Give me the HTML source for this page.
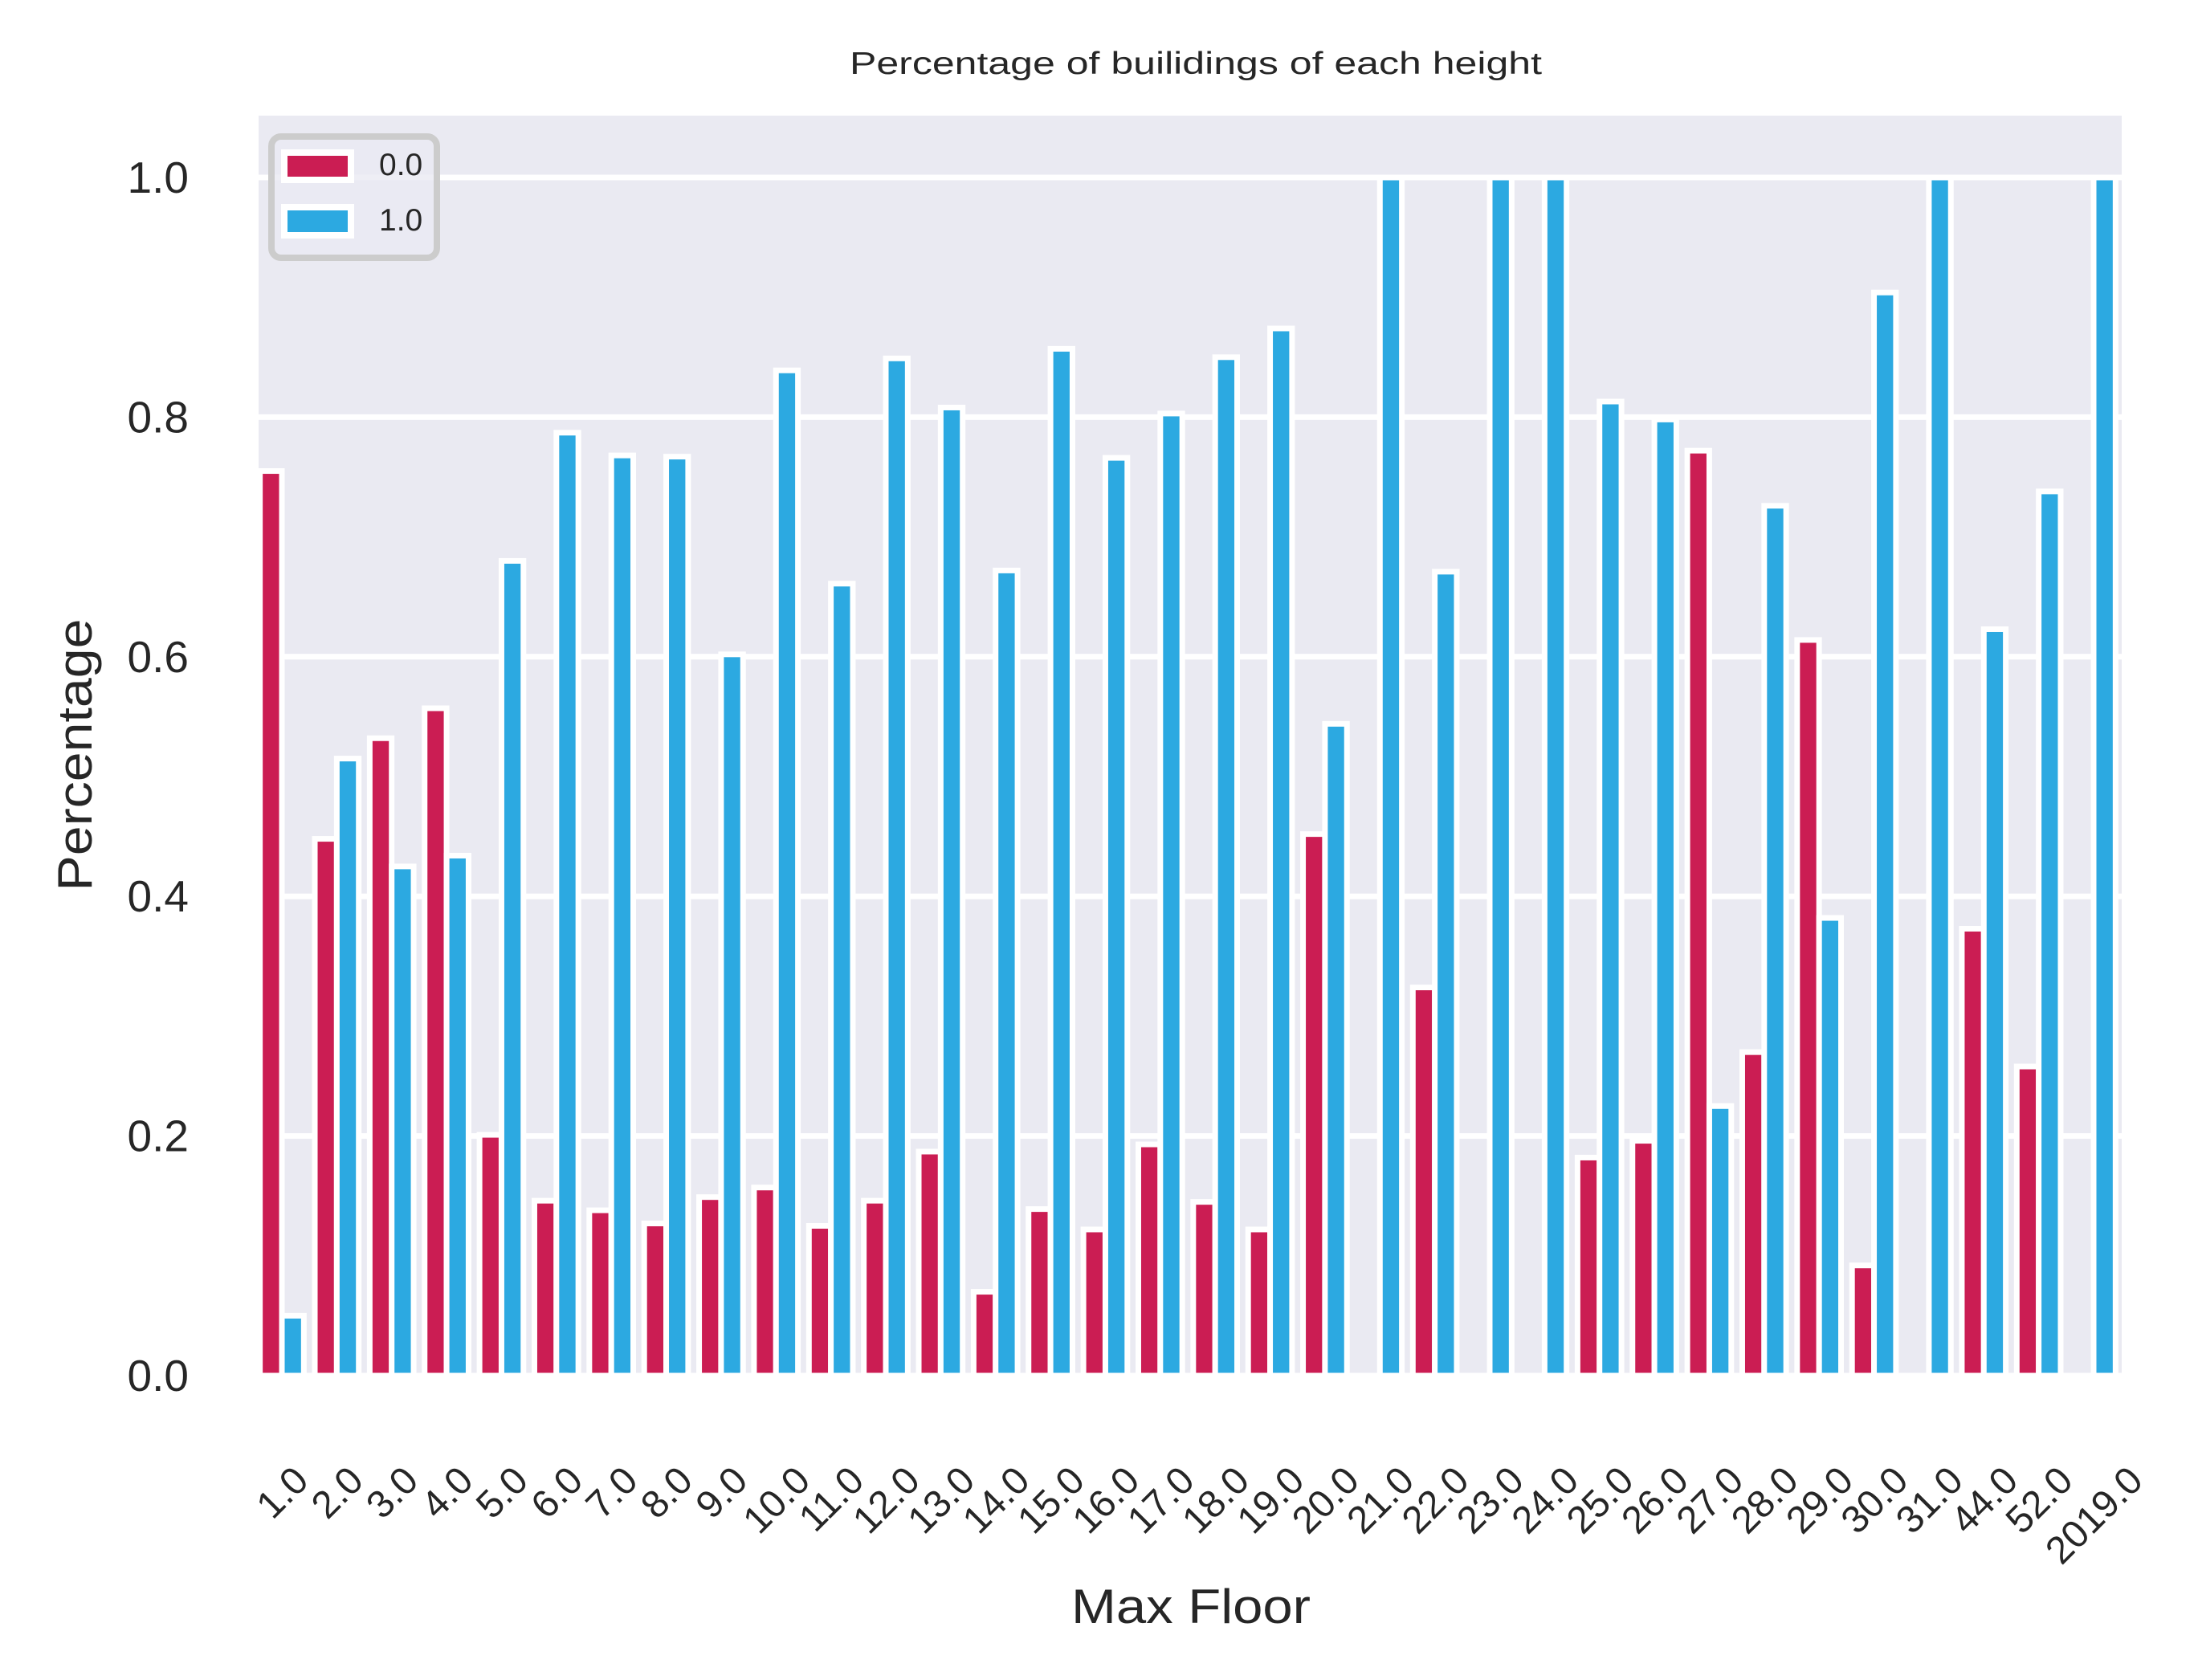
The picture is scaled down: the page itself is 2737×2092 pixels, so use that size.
<!DOCTYPE html>
<html><head><meta charset="utf-8"><style>
html,body{margin:0;padding:0;background:#fff;}
svg{display:block;font-family:"Liberation Sans",Arial,sans-serif;}
</style></head><body>
<svg id="chart" width="2737" height="2092" viewBox="0 0 2737 2092" xmlns="http://www.w3.org/2000/svg">
<rect x="0" y="0" width="2737" height="2092" fill="#ffffff"/>
<rect x="322" y="144" width="2320" height="1569" fill="#eaeaf2"/>
<g id="grid"></g>
<g id="bars"></g>
<g id="yticks"></g>
<g id="xticks"></g>
<text x="1489" y="92" text-anchor="middle" font-size="39" fill="#262626" textLength="862" lengthAdjust="spacingAndGlyphs">Percentage of builidings of each height</text>
<text x="1483" y="2021" text-anchor="middle" font-size="60" fill="#262626" textLength="298" lengthAdjust="spacingAndGlyphs">Max Floor</text>
<text transform="translate(114,940) rotate(-90)" text-anchor="middle" font-size="60" fill="#262626" textLength="339" lengthAdjust="spacingAndGlyphs">Percentage</text>
<g>
<rect x="338" y="170" width="206" height="151" rx="12" fill="#eaeaf2" fill-opacity="0.8" stroke="#cccccc" stroke-width="8"/>
<rect x="354" y="190" width="83" height="34" fill="#cb1d53" stroke="#ffffff" stroke-width="8"/>
<text x="472" y="218" font-size="39" fill="#262626">0.0</text>
<rect x="354" y="258" width="83" height="35" fill="#2ca9e1" stroke="#ffffff" stroke-width="8"/>
<text x="472" y="287" font-size="39" fill="#262626">1.0</text>
</g>
</svg>
<script>
const categories = ["1.0","2.0","3.0","4.0","5.0","6.0","7.0","8.0","9.0","10.0","11.0","12.0","13.0","14.0","15.0","16.0","17.0","18.0","19.0","20.0","21.0","22.0","23.0","24.0","25.0","26.0","27.0","28.0","29.0","30.0","31.0","44.0","52.0","2019.0"];
const series0 = [0.755,0.448,0.532,0.557,0.201,0.146,0.138,0.127,0.149,0.157,0.125,0.146,0.187,0.070,0.139,0.122,0.193,0.145,0.122,0.452,0,0.324,0,0,0.182,0.196,0.772,0.270,0.614,0.092,0,0.373,0.258,0];
const series1 = [0.050,0.515,0.425,0.434,0.680,0.787,0.768,0.767,0.602,0.839,0.661,0.849,0.808,0.672,0.857,0.766,0.803,0.850,0.874,0.544,1.0,0.671,1.0,1.0,0.813,0.798,0.225,0.726,0.382,0.904,1.0,0.623,0.738,1.0];
const yTicks = [0.0,0.2,0.4,0.6,0.8,1.0];
const yTickLabels = ["0.0","0.2","0.4","0.6","0.8","1.0"];

const NS = "http://www.w3.org/2000/svg";
const plotL = 322, plotR = 2642, plotT = 144, plotB = 1713;
const y0px = 1713, y1px = 221;
function yScale(v){ return y0px + (y1px - y0px) * v; }
const firstCenter = 351, lastCenter = 2607;
function xCenter(i){ return firstCenter + (lastCenter - firstCenter) * i / (categories.length - 1); }
const step = (lastCenter - firstCenter) / (categories.length - 1);
const barW = step * 0.8 / 2;

const grid = document.getElementById('grid');
yTicks.forEach((t, i) => {
  const l = document.createElementNS(NS, 'line');
  l.setAttribute('x1', plotL); l.setAttribute('x2', plotR);
  l.setAttribute('y1', yScale(t)); l.setAttribute('y2', yScale(t));
  l.setAttribute('stroke', '#ffffff'); l.setAttribute('stroke-width', '7');
  
  
  grid.appendChild(l);
  const tx = document.createElementNS(NS, 'text');
  tx.setAttribute('x', 235); tx.setAttribute('y', yScale(t) + 19);
  tx.setAttribute('text-anchor', 'end'); tx.setAttribute('font-size', '55');
  tx.setAttribute('fill', '#262626');
  tx.textContent = yTickLabels[i];
  
  
  document.getElementById('yticks').appendChild(tx);
});

const bars = document.getElementById('bars');
const clip = document.createElementNS(NS, 'clipPath');
clip.setAttribute('id', 'plotclip');
const cr = document.createElementNS(NS, 'rect');
cr.setAttribute('x', plotL); cr.setAttribute('y', plotT);
cr.setAttribute('width', plotR - plotL); cr.setAttribute('height', plotB - plotT + 10);
clip.appendChild(cr);
document.getElementById('chart').appendChild(clip);
bars.setAttribute('clip-path', 'url(#plotclip)');

function drawBar(cx, v, color, name){
  const r = document.createElementNS(NS, 'rect');
  const top = yScale(v);
  r.setAttribute('x', cx - barW / 2);
  r.setAttribute('width', barW);
  r.setAttribute('y', top);
  r.setAttribute('height', Math.max(0, y0px - top));
  r.setAttribute('fill', color);
  r.setAttribute('stroke', '#ffffff');
  r.setAttribute('stroke-width', '7');
  
  
  bars.appendChild(r);
}
categories.forEach((c, i) => {
  const cx = xCenter(i);
  drawBar(cx - barW / 2, series0[i], '#cb1d53', 'bar-0-' + c);
  drawBar(cx + barW / 2, series1[i], '#2ca9e1', 'bar-1-' + c);
});

const xt = document.getElementById('xticks');
const labelTop = 1822;
categories.forEach((c, i) => {
  const t = document.createElementNS(NS, 'text');
  t.setAttribute('font-size', '48');
  t.setAttribute('fill', '#262626');
  t.setAttribute('text-anchor', 'middle');
  t.textContent = c;
  
  
  xt.appendChild(t);
  const w = t.getComputedTextLength();
  const h = 35;
  const half = (w + h) / (2 * Math.SQRT2);
  t.setAttribute('y', 17);
  t.setAttribute('transform', 'translate(' + xCenter(i) + ',' + (labelTop + half) + ') rotate(-45)');
});
</script>
</body></html>
